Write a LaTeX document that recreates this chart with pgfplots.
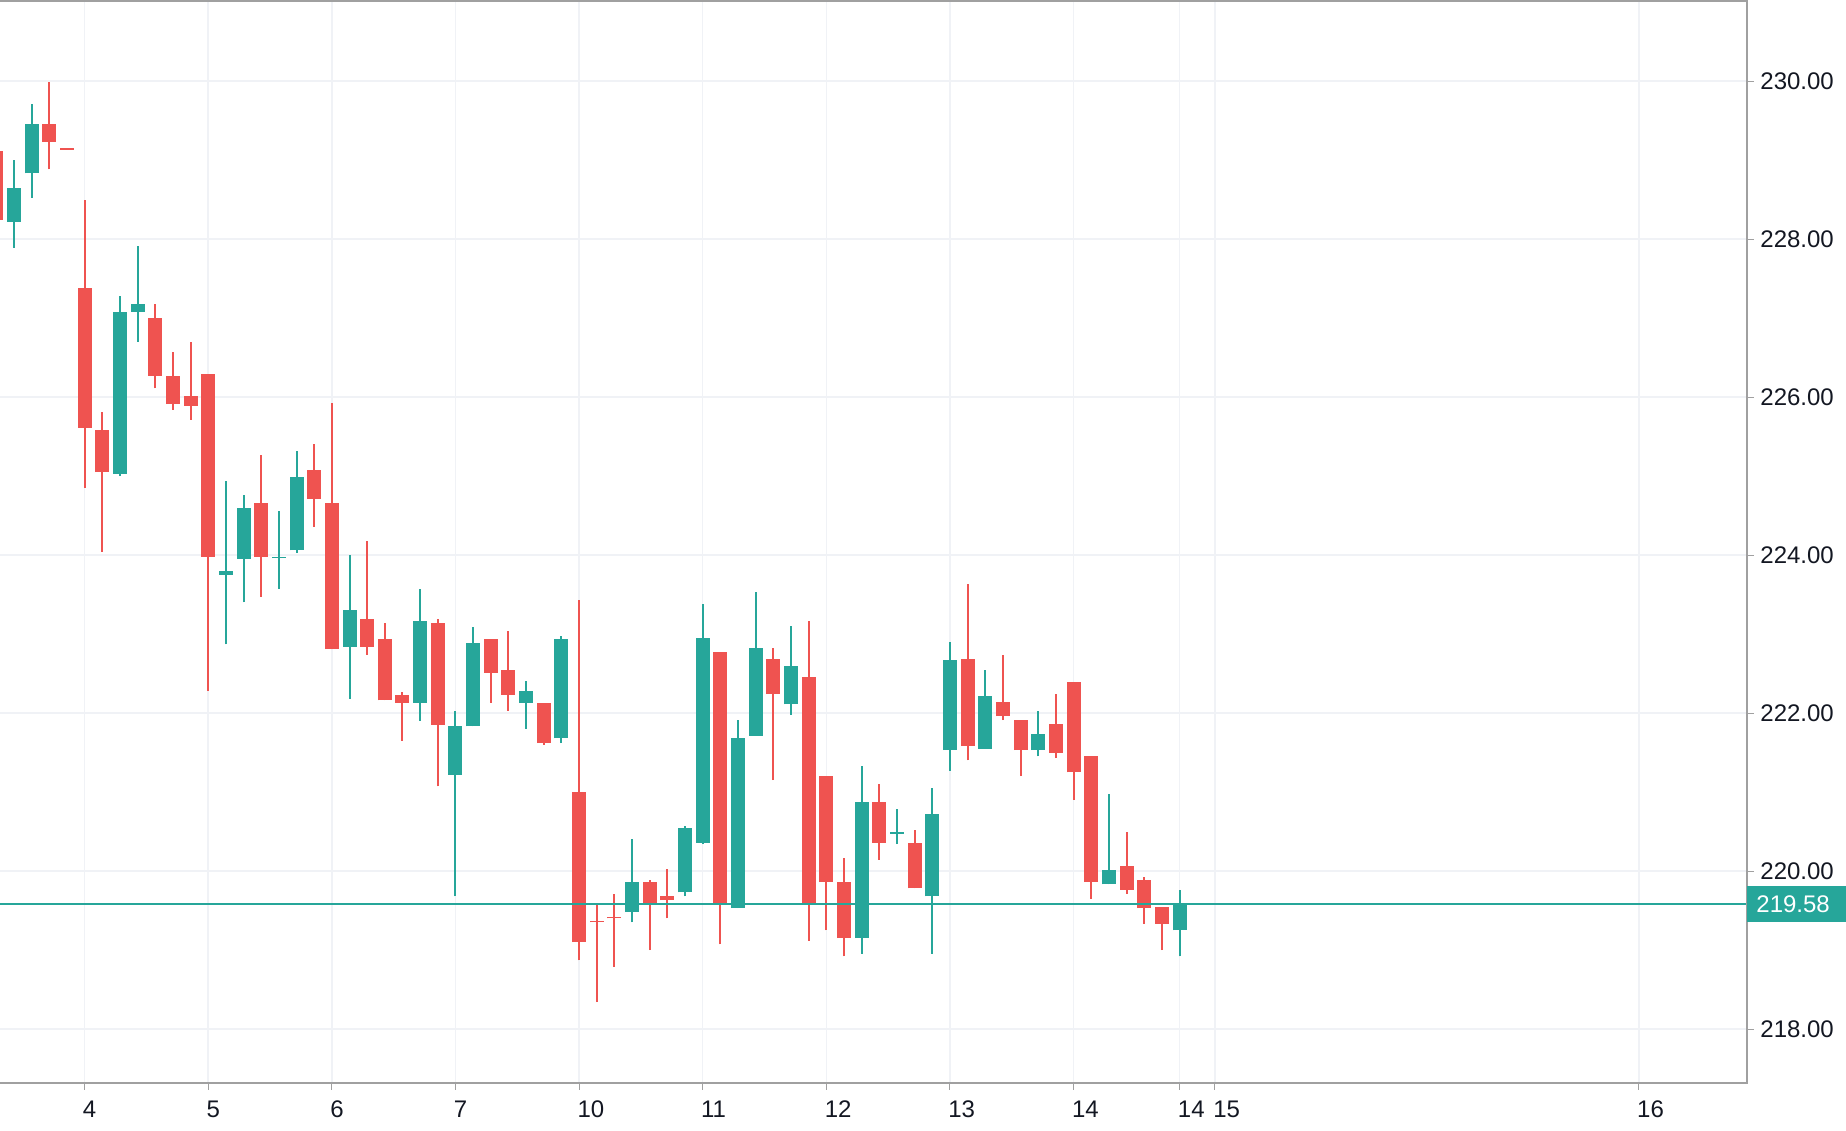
\documentclass[border=0pt]{standalone}
\usepackage{fontspec}
\setmainfont{Liberation Sans}
\usepackage{pgfplots}
\pgfplotsset{compat=1.18}
\usepackage{pgfplotstable}

\definecolor{tvteal}{RGB}{38,166,154}
\definecolor{tvred}{RGB}{239,83,80}
\definecolor{axgray}{RGB}{160,160,160}
\definecolor{gridc}{RGB}{240,242,246}
\definecolor{txt}{RGB}{19,23,34}

% rising candles: index, open, high, low, close
\pgfplotstableread{
i O H L C
-4 228.22 229.00 227.89 228.65
-3 228.83 229.71 228.52 229.46
2 225.03 227.28 225.00 227.08
3 227.08 227.91 226.70 227.18
8 223.75 224.94 222.87 223.80
9 223.95 224.76 223.40 224.59
11 223.96 224.56 223.57 223.98
12 224.06 225.32 224.03 224.99
15 222.84 224.00 222.18 223.30
19 222.13 223.57 221.90 223.17
21 221.22 222.03 219.68 221.83
22 221.83 223.09 221.83 222.89
25 222.13 222.41 221.80 222.28
27 221.68 222.97 221.62 222.94
31 219.48 220.41 219.35 219.86
34 219.73 220.57 219.68 220.54
35 220.36 223.38 220.34 222.95
37 219.53 221.91 219.53 221.68
38 221.71 223.53 221.71 222.82
40 222.11 223.10 221.98 222.59
44 219.15 221.33 218.95 220.87
46 220.47 220.79 220.34 220.49
48 219.68 221.05 218.95 220.72
49 221.53 222.90 221.27 222.67
51 221.55 222.54 221.55 222.21
54 221.53 222.03 221.45 221.73
58 219.83 220.97 219.83 220.01
62 219.25 219.76 218.92 219.58
}\upcandles

% falling candles: index, open, high, low, close
\pgfplotstableread{
i O H L C
-5 229.11 229.11 228.20 228.24
-2 229.46 229.99 228.88 229.23
-1 229.15 229.15 229.13 229.13
0 227.38 228.49 224.85 225.61
1 225.58 225.81 224.04 225.05
4 227.00 227.18 226.11 226.27
5 226.27 226.57 225.84 225.91
6 226.01 226.70 225.71 225.89
7 226.29 226.29 222.28 223.98
10 224.66 225.27 223.47 223.98
13 225.07 225.40 224.36 224.71
14 224.66 225.93 222.81 222.81
16 223.19 224.18 222.74 222.84
17 222.94 223.14 222.16 222.16
18 222.23 222.26 221.65 222.13
20 223.14 223.19 221.07 221.85
23 222.94 222.94 222.13 222.51
24 222.54 223.04 222.03 222.23
26 222.13 222.13 221.60 221.62
28 221.00 223.43 218.87 219.10
29 219.37 219.60 218.34 219.35
30 219.42 219.71 218.79 219.40
32 219.86 219.88 219.00 219.58
33 219.68 220.03 219.40 219.63
36 222.77 222.77 219.07 219.60
39 222.69 222.82 221.15 222.24
41 222.46 223.17 219.12 219.58
42 221.20 221.20 219.25 219.86
43 219.86 220.16 218.92 219.15
45 220.87 221.10 220.14 220.36
47 220.36 220.52 219.78 219.78
50 222.69 223.63 221.40 221.58
52 222.14 222.74 221.91 221.96
53 221.91 221.91 221.20 221.53
55 221.86 222.24 221.43 221.50
56 222.39 222.39 220.90 221.25
57 221.45 221.45 219.65 219.86
59 220.06 220.49 219.71 219.76
60 219.88 219.93 219.33 219.53
61 219.55 219.55 219.00 219.33
}\downcandles

\begin{document}
\begin{tikzpicture}
\useasboundingbox (0,0) rectangle (923pt,565pt);
\begin{axis}[
  at={(0pt,23.75pt)}, anchor=south west,
  scale only axis, width=873.5pt, height=540.75pt,
  xmin=-4.79, xmax=94.13, ymin=217.323, ymax=231.013,
  clip mode=individual,
  axis line style={draw=none},
  xtick={0,7,14,21,28,35,42,49,56,62,64,88},
  xticklabels={4,5,6,7,10,11,12,13,14,14,15,16},
  ytick={218,220,222,224,226,228,230},
  xtick pos=lower, ytick pos=right,
  yticklabel pos=right,
  tick align=outside,
  major tick length=3.5pt,
  tick style={draw=axgray, line width=0.5pt},
  grid=major,
  major grid style={draw=gridc, line width=0.75pt},
  ticklabel style={font=\fontsize{12}{14}\selectfont, text=txt},
  /pgf/number format/assume math mode=true,
  scaled y ticks=false,
  yticklabel style={anchor=west, inner sep=0pt, xshift=3pt,
    /pgf/number format/fixed, /pgf/number format/fixed zerofill,
    /pgf/number format/precision=2},
  xticklabel style={anchor=north west, inner sep=0pt, xshift=-1pt, yshift=-5.5pt},
]
% wicks
\addplot[draw=none, forget plot, error bars/.cd, y dir=plus, y explicit, error mark=none,
  error bar style={draw=tvteal, line width=1pt, solid}]
  table[x=i, y=L, y error plus expr=\thisrow{H}-\thisrow{L}] {\upcandles};
\addplot[draw=none, forget plot, error bars/.cd, y dir=plus, y explicit, error mark=none,
  error bar style={draw=tvred, line width=1pt, solid}]
  table[x=i, y=L, y error plus expr=\thisrow{H}-\thisrow{L}] {\downcandles};
% bodies
\addplot[draw=none, forget plot, error bars/.cd, y dir=plus, y explicit, error mark=none,
  error bar style={draw=tvteal, line width=7pt, solid}]
  table[x=i, y=O, y error plus expr=\thisrow{C}-\thisrow{O}] {\upcandles};
\addplot[draw=none, forget plot, error bars/.cd, y dir=plus, y explicit, error mark=none,
  error bar style={draw=tvred, line width=7pt, solid}]
  table[x=i, y=C, y error plus expr=\thisrow{O}-\thisrow{C}] {\downcandles};
% last price line
\addplot[tvteal, line width=0.85pt, forget plot] coordinates {(-10,219.58) (100,219.58)};
% frame
\draw[axgray, line width=1pt] (rel axis cs:0,1) -- (rel axis cs:1,1) -- (rel axis cs:1,0) -- (rel axis cs:0,0);
\node[fill=tvteal, text=white, anchor=west, inner xsep=4.5pt, inner ysep=0pt,
  minimum height=17.85pt, text width=45.5pt, align=left,
  font=\fontsize{12}{14}\selectfont] at (axis cs:94.13,219.58) {219.58};
\end{axis}
\end{tikzpicture}
\end{document}
